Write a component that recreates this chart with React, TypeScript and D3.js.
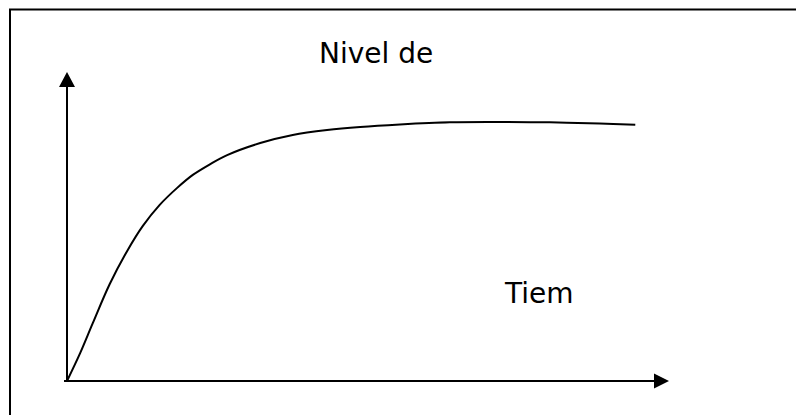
import { useRef, useEffect } from 'react';
import * as d3 from 'd3';

// tiempo (arbitrary units) vs nivel (percentage of the axis height)
const TIME = [0, 0.22, 0.43, 0.71, 1.0, 1.26, 1.54, 1.83, 2.09, 2.38, 2.66, 3.21, 3.75, 4.32, 4.87, 5.53, 6.36, 7.19, 8.02, 8.85, 9.44];
const LEVEL = [0, 9.1, 18.8, 31.4, 42.1, 50.2, 57.0, 62.5, 66.7, 70.2, 73.1, 77.0, 79.6, 81.2, 82.2, 83.0, 83.7, 83.8, 83.7, 83.3, 82.9];
const X_DOMAIN = [0, 10];
const Y_DOMAIN = [0, 100];
const TITLE = 'Nivel de';
const X_LABEL = 'Tiem';

export default function App() {
  const ref = useRef<SVGSVGElement | null>(null);

  useEffect(() => {
    const W = 796;
    const H = 415;
    const svg = d3.select(ref.current);
    svg.selectAll('*').remove();

    const x = d3.scaleLinear().domain(X_DOMAIN).range([67, 669]);
    const y = d3.scaleLinear().domain(Y_DOMAIN).range([381, 72]);

    // frame (top + left edges only)
    svg.append('path')
      .attr('d', `M10,${H} V9.5 H${W}`)
      .attr('fill', 'none').attr('stroke', '#000').attr('stroke-width', 2);

    // axes with arrowheads
    const x0 = x(X_DOMAIN[0]), x1 = x(X_DOMAIN[1]);
    const y0 = y(Y_DOMAIN[0]), y1 = y(Y_DOMAIN[1]);
    svg.append('line')
      .attr('x1', x0).attr('y1', y0).attr('x2', x0).attr('y2', y1 + 14)
      .attr('stroke', '#000').attr('stroke-width', 2);
    svg.append('line')
      .attr('x1', x0 - 3).attr('y1', y0).attr('x2', x1 - 14).attr('y2', y0)
      .attr('stroke', '#000').attr('stroke-width', 2);
    svg.append('path')
      .attr('d', `M${x0},${y1} L${x0 - 8},${y1 + 15} L${x0 + 8},${y1 + 15} Z`)
      .attr('fill', '#000');
    svg.append('path')
      .attr('d', `M${x1},${y0} L${x1 - 15},${y0 - 7.5} L${x1 - 15},${y0 + 7.5} Z`)
      .attr('fill', '#000');

    // curve
    const pts = TIME.map((t, i) => [t, LEVEL[i]] as [number, number]);
    const line = d3.line<[number, number]>()
      .x(d => x(d[0])).y(d => y(d[1]))
      .curve(d3.curveCatmullRom.alpha(0.5));
    svg.append('path').datum(pts)
      .attr('fill', 'none').attr('stroke', '#000').attr('stroke-width', 2)
      .attr('stroke-linejoin', 'round')
      .attr('d', line);

    // labels
    svg.append('text')
      .attr('x', 319).attr('y', 63)
      .attr('font-family', '"DejaVu Sans", Verdana, sans-serif')
      .attr('font-size', 28).attr('fill', '#000')
      .text(TITLE);
    svg.append('text')
      .attr('x', 505).attr('y', 303)
      .attr('font-family', '"DejaVu Sans", Verdana, sans-serif')
      .attr('font-size', 28).attr('fill', '#000')
      .text(X_LABEL);
  }, []);

  return (
    <svg
      ref={ref}
      width={796}
      height={415}
      style={{ position: 'absolute', left: 0, top: 0, background: '#fff' }}
    />
  );
}
